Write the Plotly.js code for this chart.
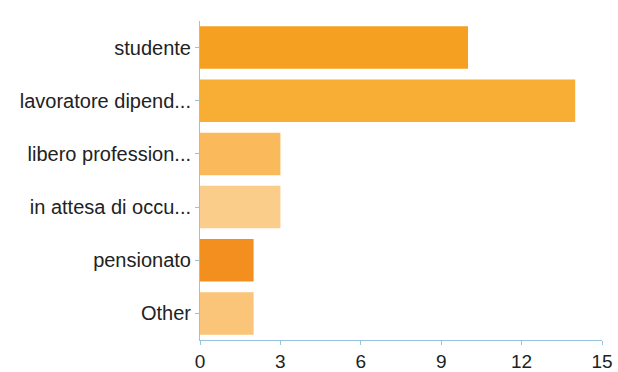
<!DOCTYPE html>
<html><head><meta charset="utf-8">
<script src="https://cdn.plot.ly/plotly-3.0.1.min.js"></script>
<style>body{margin:0;background:#fff}#c{width:618px;height:372px}</style>
</head><body><div id="c"></div>
<script>
const categories = ["studente","lavoratore dipend...","libero profession...","in attesa di occu...","pensionato","Other"];
const counts = [10,14,3,3,2,2];
const barColors = ["rgb(246,160,34)","rgb(248,173,53)","rgb(250,186,92)","rgb(251,205,138)","rgb(242,143,30)","rgb(250,197,120)"];
const xTicks = [0,3,6,9,12,15];

const axisColor = "rgb(150,195,222)";
Plotly.newPlot("c",[{
  type:"bar", orientation:"h",
  y:categories, x:counts,
  marker:{color:barColors},
  hoverinfo:"none"
}],{
  width:618,height:372,
  margin:{l:200,r:16,t:21,b:32,pad:0},
  paper_bgcolor:"#fff",plot_bgcolor:"#fff",
  bargap:0.2,
  font:{family:"Liberation Sans, Arial, sans-serif",size:20,color:"#222"},
  xaxis:{range:[0,15],tickvals:xTicks,ticktext:xTicks.map(String),showgrid:false,zeroline:false,
    showline:true,linecolor:axisColor,linewidth:1,ticks:"outside",ticklen:4,tickcolor:axisColor,
    tickfont:{size:19,color:"#222"}},
  yaxis:{autorange:"reversed",showgrid:false,zeroline:false,showline:true,linecolor:axisColor,linewidth:1,
    ticks:"outside",ticklen:4,tickcolor:axisColor,tickfont:{size:20,color:"#222"}},
  showlegend:false
},{displayModeBar:false,staticPlot:true});
</script></body></html>
